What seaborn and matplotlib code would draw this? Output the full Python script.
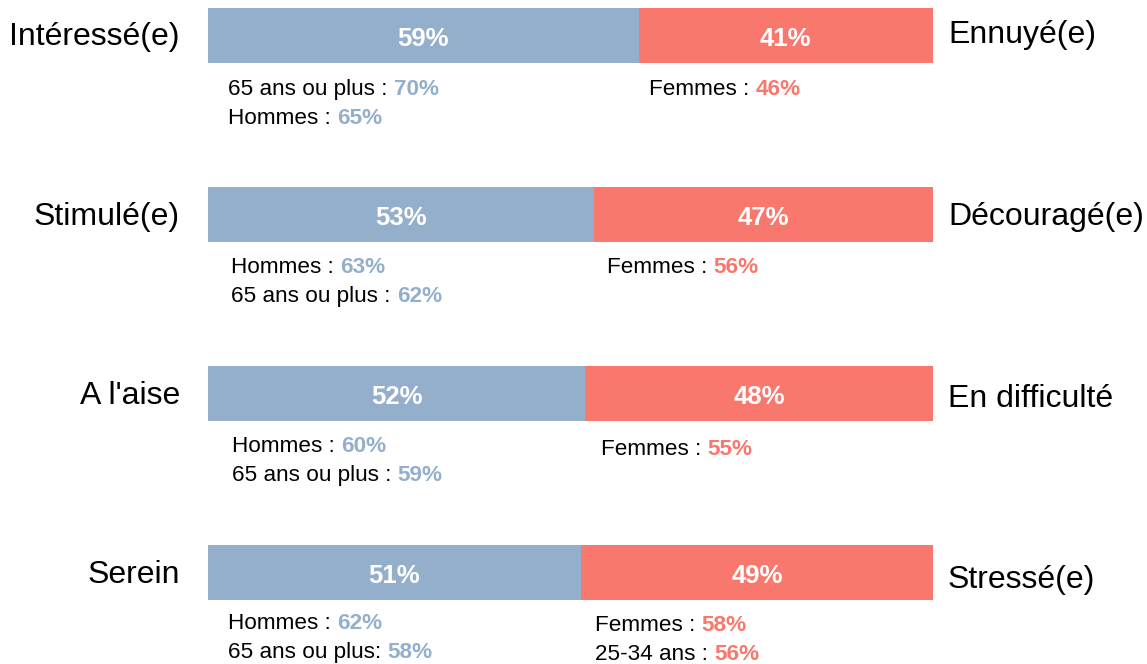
import matplotlib
matplotlib.use("Agg")
import matplotlib.pyplot as plt
import seaborn as sns
import pandas as pd

# ---- data ----
left_labels = ["Intéressé(e)", "Stimulé(e)", "A l'aise", "Serein"]
right_labels = ["Ennuyé(e)", "Découragé(e)", "En difficulté", "Stressé(e)"]
left_pct = [59.4, 53.2, 52.0, 51.4]
right_pct = [40.6, 46.8, 48.0, 48.6]

left_notes = [
    [("65 ans ou plus : ", "70%"), ("Hommes : ", "65%")],
    [("Hommes : ", "63%"), ("65 ans ou plus : ", "62%")],
    [("Hommes : ", "60%"), ("65 ans ou plus : ", "59%")],
    [("Hommes : ", "62%"), ("65 ans ou plus: ", "58%")],
]
right_notes = [
    [("Femmes : ", "46%")],
    [("Femmes : ", "56%")],
    [("Femmes : ", "55%")],
    [("Femmes : ", "58%"), ("25-34 ans : ", "56%")],
]

BLUE = "#94AFCB"
RED = "#F8786D"

sns.set_theme(style="white")
plt.rcParams["font.family"] = ["Liberation Sans", "DejaVu Sans"]

W, H = 1147, 664
fig = plt.figure(figsize=(W / 100, H / 100), dpi=100)
ax = fig.add_axes([208 / W, 0, 725 / W, 1])

df = pd.DataFrame({
    "cat": left_labels,
    "left": left_pct,
    "total": [l + r for l, r in zip(left_pct, right_pct)],
})

sns.barplot(data=df, x="total", y="cat", color=RED, saturation=1,
            width=55 / 179, ax=ax, orient="h", linewidth=0)
sns.barplot(data=df, x="left", y="cat", color=BLUE, saturation=1,
            width=55 / 179, ax=ax, orient="h", linewidth=0)

ax.set_xlim(0, 100)
ax.set_ylim((H - 35.5) / 179, -35.5 / 179)
ax.axis("off")

PXX = 725 / 100.0  # pixels per data unit


def px_to_x(px):
    return (px - 208) / PXX


def py_to_y(py):
    return (py - 35.5) / 179


# values in bars
for i, (l, r) in enumerate(zip(left_pct, right_pct)):
    yy = py_to_y(35.5 + 179 * i + 3.5)
    ax.text(l / 2, yy, f"{round(l)}%", ha="center", va="center",
            color="white", fontsize=18.5, fontweight="bold")
    ax.text(l + r / 2, yy, f"{round(r)}%", ha="center", va="center",
            color="white", fontsize=18.5, fontweight="bold")

# side labels
left_label_y = [37, 217, 396, 575]
right_label_y = [35, 217, 399, 580]
for i in range(len(left_labels)):
    ax.text(px_to_x(180), py_to_y(left_label_y[i]), left_labels[i],
            ha="right", va="center", fontsize=23, color="black")
    ax.text(px_to_x(948), py_to_y(right_label_y[i]), right_labels[i],
            ha="left", va="center", fontsize=23, color="black")

# sub notes
left_note_x = [228, 231, 232, 228]
left_note_y = [90, 268, 447, 624]
right_note_x = [649, 607, 601, 595]
right_note_y = [90, 268, 450, 626]
LINE = 29


def note(x_px, y_px, label, value, color):
    t = ax.text(px_to_x(x_px), py_to_y(y_px), label, ha="left", va="center",
                fontsize=16.2, color="black")
    ax.annotate(value, xy=(1, 0.5), xycoords=t, ha="left", va="center",
                fontsize=16.2, fontweight="bold", color=color)


for i in range(len(left_notes)):
    for j, (lab, val) in enumerate(left_notes[i]):
        note(left_note_x[i], left_note_y[i] + j * LINE, lab, val, BLUE)
    for j, (lab, val) in enumerate(right_notes[i]):
        note(right_note_x[i], right_note_y[i] + j * LINE, lab, val, RED)

fig.savefig("out.png", dpi=100, facecolor="white")
